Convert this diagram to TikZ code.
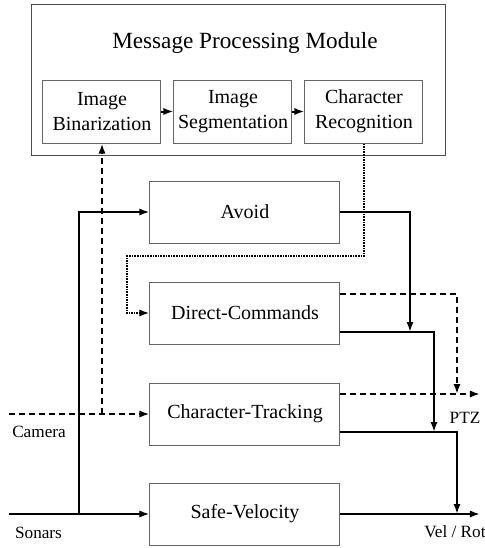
\documentclass[tikz,border=0pt]{standalone}
\usepackage{fontspec}
\setmainfont{Liberation Serif}
\usetikzlibrary{positioning,arrows.meta}

\tikzset{
    module/.style={draw=black!60, line width=0.5pt, minimum width=95pt, minimum height=31pt,
        inner sep=2pt, font=\fontsize{10}{12}\selectfont},
    stage/.style={draw=black!60, line width=0.5pt, minimum width=59pt, minimum height=31.5pt,
        align=center, inner sep=1pt, font=\fontsize{10}{12.5}\selectfont},
    lbl/.style={font=\fontsize{8.6}{10}\selectfont, inner sep=0pt},
    flow/.style={line width=1pt, -{Latex[length=5pt,width=3.6pt]}},
    camflow/.style={flow, dash pattern=on 3pt off 2pt},
    cmdflow/.style={flow, dash pattern=on 0.8pt off 0.5pt},
}

\begin{document}
\begin{tikzpicture}
\useasboundingbox (0,0) rectangle (242.5pt,-274pt);

%Message processing module
\node[draw=black!70, line width=0.5pt, minimum width=207pt, minimum height=75.5pt]
    (mpm) at (119.5pt,-39.75pt) {};
\node[font=\fontsize{11.6}{14}\selectfont] (title) at (122.5pt,-21.5pt) {Message Processing Module};
\node[stage]    (segm)  at (116.5pt,-55.75pt)   {Image\\Segmentation};
\node[stage]    (bin)   [left=6pt of segm]      {Image\\Binarization};
\node[stage]    (rec)   [right=6pt of segm]     {Character\\Recognition};

%Behaviours
\node[module]   (avoid)     at (122.5pt,-106pt)     {Avoid};
\node[module]   (direct)    at (122.5pt,-156.5pt)   {Direct-Commands};
\node[module]   (track)     at (122.5pt,-207pt)     {Character-Tracking};
\node[module]   (safe)      at (122.5pt,-257pt)     {Safe-Velocity};

%Inputs, outputs and columns
\coordinate (col0)      at (4.5pt,0);
\coordinate (split)     at (39.5pt,0);
\coordinate (turn)      at (63.5pt,-128pt);
\coordinate (col1)      at (205pt,0);
\coordinate (col2)      at (217pt,0);
\coordinate (col3)      at (228.5pt,0);
\coordinate (col4)      at (240pt,0);
\coordinate (dcptz)     at ([yshift=9.75pt]direct.east);
\coordinate (dcout)     at ([yshift=-9.5pt]direct.east);
\coordinate (ctptz)     at ([yshift=10pt]track.east);
\coordinate (ctout)     at ([yshift=-9pt]track.east);

\node[lbl]  (sonarslbl) at (19.25pt,-266.5pt)   {Sonars};
\node[lbl]  (cameralbl) at (19.5pt,-216pt)      {Camera};
\node[lbl]  (ptzlbl)    at (232.5pt,-209pt)     {PTZ};
\node[lbl]  (velrotlbl) at (227.5pt,-266pt)     {Vel / Rot};

%Lines
\draw[flow]     (bin) -- (segm);
\draw[flow]     (segm) -- (rec);
\draw[flow]     (col0 |- safe.west) -- (safe.west);
\draw[flow]     (split |- safe.west) |- (avoid.west);
\draw[camflow]  (col0 |- track.west) -- (track.west);
\draw[camflow]  (bin.south |- track.west) -- (bin.south);
\draw[cmdflow]  (rec.south) |- (turn) |- (direct.west);
\draw[flow]     (avoid.east) -| (col1 |- dcout);
\draw[flow]     (dcout) -| (col2 |- ctout);
\draw[flow]     (ctout) -| (col3 |- safe.east);
\draw[flow]     (safe.east) -- (col4 |- safe.east);
\draw[camflow]  (dcptz) -| (col3 |- ctptz);
\draw[camflow]  (ctptz) -- (col4 |- ctptz);
\end{tikzpicture}
\end{document}
